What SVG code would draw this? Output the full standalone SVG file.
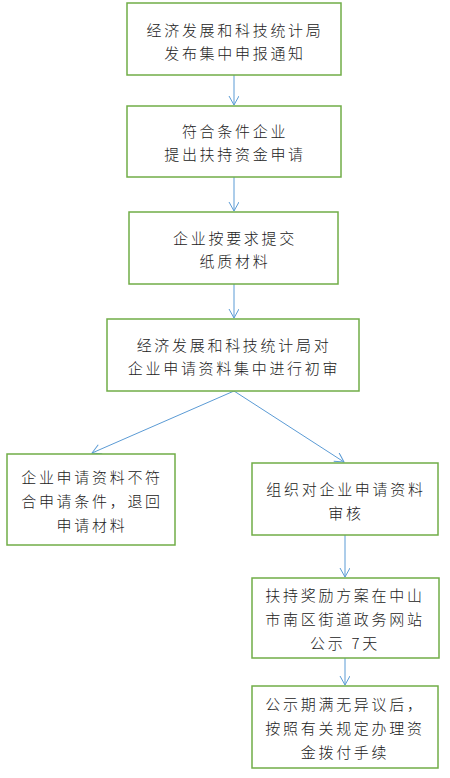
<svg xmlns="http://www.w3.org/2000/svg" width="450" height="778" viewBox="0 0 450 778">
<style>
.box{fill:#fff;stroke:#70AD47;stroke-width:1.5}
.t{font-family:"Noto Sans CJK SC","Noto Sans CJK JP",sans-serif;font-size:15px;font-weight:300;fill:#222;text-anchor:middle;letter-spacing:2.7px;dominant-baseline:central}
.c{fill:none;stroke:#5B9BD5;stroke-width:1;marker-end:url(#a)}
</style>
<defs>
<marker id="a" markerWidth="12" markerHeight="12" refX="10" refY="5" orient="auto" markerUnits="userSpaceOnUse">
<path d="M1,0 L10,5 L1,10" fill="none" stroke="#5B9BD5" stroke-width="1"/>
</marker>
</defs>
<rect width="450" height="778" fill="#fff"/>
<g id="connectors">
<line class="c" x1="234" y1="75" x2="234" y2="105"/>
<line class="c" x1="234" y1="177" x2="234" y2="211"/>
<line class="c" x1="234" y1="284" x2="234" y2="318"/>
<line class="c" x1="234" y1="391" x2="92" y2="453"/>
<line class="c" x1="234" y1="391" x2="344" y2="462"/>
<line class="c" x1="345" y1="535" x2="345" y2="577"/>
<line class="c" x1="345" y1="658" x2="345" y2="685"/>
</g>
<g id="n1"><rect class="box" x="127" y="3" width="214" height="72"/>
<text class="t" x="235" y="29">经济发展和科技统计局</text>
<text class="t" x="235" y="52">发布集中申报通知</text></g>
<g id="n2"><rect class="box" x="127" y="106" width="214" height="71"/>
<text class="t" x="235" y="130">符合条件企业</text>
<text class="t" x="235" y="153">提出扶持资金申请</text></g>
<g id="n3"><rect class="box" x="129" y="212" width="209" height="72"/>
<text class="t" x="235" y="237">企业按要求提交</text>
<text class="t" x="235" y="260">纸质材料</text></g>
<g id="n4"><rect class="box" x="107" y="319" width="252" height="72"/>
<text class="t" x="234" y="344">经济发展和科技统计局对</text>
<text class="t" x="234" y="367">企业申请资料集中进行初审</text></g>
<g id="n5"><rect class="box" x="7" y="454" width="168" height="91"/>
<text class="t" x="92" y="476">企业申请资料不符</text>
<text class="t" x="92" y="500">合申请条件，退回</text>
<text class="t" x="92" y="524">申请材料</text></g>
<g id="n6"><rect class="box" x="252" y="463" width="186" height="72"/>
<text class="t" x="346" y="488">组织对企业申请资料</text>
<text class="t" x="346" y="512">审核</text></g>
<g id="n7"><rect class="box" x="252" y="578" width="187" height="80"/>
<text class="t" x="345" y="594">扶持奖励方案在中山</text>
<text class="t" x="345" y="618">市南区街道政务网站</text>
<text class="t" x="345" y="642">公示 7天</text></g>
<g id="n8"><rect class="box" x="252" y="686" width="186" height="82"/>
<text class="t" x="345" y="703">公示期满无异议后，</text>
<text class="t" x="345" y="727">按照有关规定办理资</text>
<text class="t" x="345" y="751">金拨付手续</text></g>
</svg>
